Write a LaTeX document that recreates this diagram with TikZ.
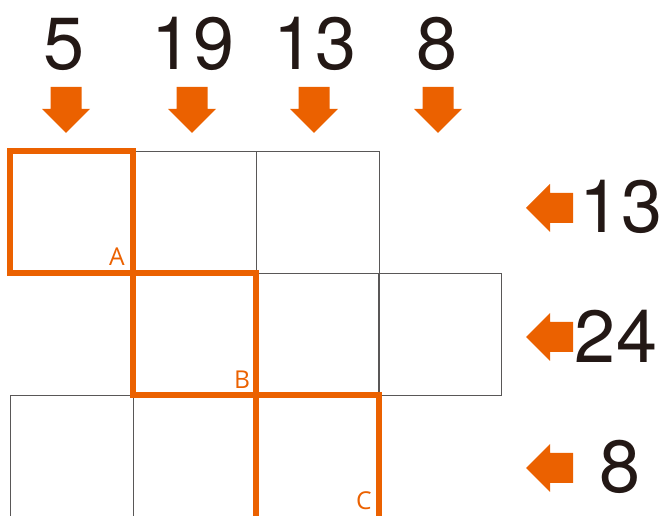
\documentclass[tikz,border=0pt]{standalone}
\usepackage{fontspec}
\setmainfont{TeX Gyre Heros}
\newfontfamily\labfont{Open Sans}
\usetikzlibrary{positioning}
\definecolor{routeorange}{HTML}{EB6100}
\definecolor{inkblack}{HTML}{231815}
\definecolor{gridgrey}{HTML}{595757}
\tikzset{
  cell/.style={draw=gridgrey, line width=0.8pt},
  route/.style={draw=routeorange, line width=4.6pt, line join=miter},
  sumnum/.style={anchor=base, inner sep=0pt, text=inkblack, font=\fontsize{63}{63}\selectfont},
  corner/.style={anchor=base, inner sep=0pt, text=routeorange, font=\labfont\fontsize{21}{21}\selectfont},
  pics/darr/.style={code={
    \fill[routeorange] (-15.5,0) -- (15.5,0) -- (15.5,22) -- (24,22) -- (0,46) -- (-24,22) -- (-15.5,22) -- cycle;}},
  pics/larr/.style={code={
    \fill[routeorange] (0,-15) -- (-23,-15) -- (-23,-24) -- (-47,0) -- (-23,24) -- (-23,15) -- (0,15) -- cycle;}},
}

\begin{document}
\begin{tikzpicture}[x=0.03cm, y=-0.03cm]
\useasboundingbox (0,0) rectangle (661,516);
% grid
\foreach \x in {10,133,256} \draw[cell] (\x,151) rectangle +(123,122);
\foreach \x in {133,256,379} \draw[cell] (\x,273) rectangle +(122.5,122);
\foreach \x in {10,133,256} \draw[cell] (\x,395) rectangle +(123,130);
% route
\draw[route] (10,151) rectangle (133,273);
\draw[route] (133,273) rectangle (256,395);
\draw[route] (379,530) -- (379,395) -- (256,395) -- (256,530);
% corner labels
\node[corner] (A) at (117,266) {A};
\node[corner] (B) at (242,389) {B};
\node[corner] (C) at (364,510) {C};
% column sums
\node[sumnum] (top1) at (64,70) {5};
\node[sumnum] (top2) at (193,70) {19};
\node[sumnum] (top3) at (315,70) {13};
\node[sumnum] (top4) at (437,70) {8};
\foreach \x in {66,192,314,438} \pic at (\x,87) {darr};
% row sums
\node[sumnum] (right1) at (621,233) {13};
\node[sumnum] (right2) at (616,363) {24};
\node[sumnum] (right3) at (620,493) {8};
\foreach \y in {208,337,468} \pic at (573,\y) {larr};
\end{tikzpicture}
\end{document}
